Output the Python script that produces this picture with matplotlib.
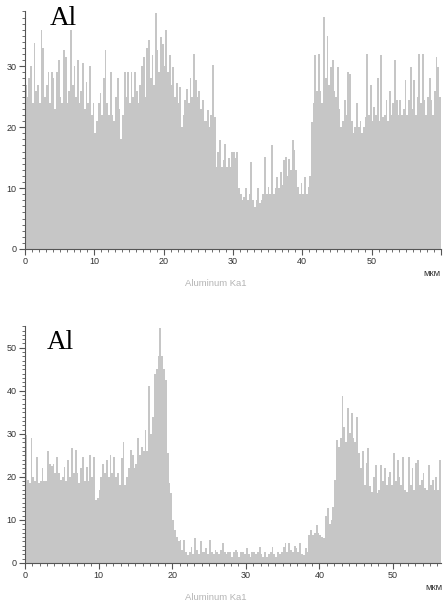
import numpy as np
import matplotlib
matplotlib.use('Agg')
import matplotlib.pyplot as plt
from matplotlib.ticker import MultipleLocator

# EDS line scan, Al K-alpha counts, one value per 0.25 um step
step = 0.25

al_top = [
    27, 25, 28, 30, 24, 33.8, 26, 27, 24, 36, 33, 25, 27, 29, 24, 29, 28, 23, 29, 31,
    25, 24, 32.7, 31.5, 24, 26, 36, 27, 30, 25, 31, 24, 26, 30.5, 23, 27.5, 24, 30, 22, 24,
    19, 21, 24, 25.6, 22, 28, 32.7, 24, 22, 29, 22, 21, 25, 28, 23, 18, 22, 29, 25, 29,
    24, 29, 25, 29, 26, 24, 27, 30, 31.6, 25, 33, 34.3, 28, 31.8, 27, 38.7, 32.6, 29, 34.8, 33.7,
    30, 35.9, 29, 31.8, 27, 29.9, 25, 27.2, 24, 26.6, 20, 22, 24.4, 26.3, 24, 28, 25, 32, 27.7, 25,
    26, 23, 24.4, 21, 21, 22.8, 20, 22, 30.2, 21.7, 13.5, 16, 17.9, 13.5, 14.6, 17.3, 13.5, 15, 13.5, 16,
    16, 15, 16, 10, 9.1, 8, 8.5, 10, 8, 9, 14.3, 8, 6.9, 8, 10, 7.5, 8, 9, 15.1, 9,
    10.2, 9, 17, 9, 10, 11.9, 10, 12.7, 10.5, 14.6, 15.1, 12, 14.8, 13, 17.9, 16.2, 13, 10.2, 9, 10.8,
    9, 11.9, 9, 10.2, 12, 20.9, 24, 31.8, 26, 32, 26, 24, 38.1, 28, 35, 27, 29.9, 31, 26, 25,
    29.9, 23, 20, 21, 24.4, 22, 29, 28.8, 21, 19, 20, 23.9, 20, 21, 19, 20, 21.7, 32, 22, 27,
    21, 23.3, 22, 28, 21, 31.8, 21.7, 22, 24.4, 21, 26, 22, 24, 31, 24.4, 22, 24.4, 22, 23, 27.7,
    22, 24.4, 29.9, 23, 27.7, 22, 25, 32, 24, 32, 24.4, 22, 25, 28, 24.4, 22, 26, 31.5, 29.9, 25,
]

al_bottom = [
    29.8, 19.3, 18.5, 29, 20, 19, 24.7, 18.5, 19, 22, 19, 19, 25.9, 23, 22.5, 23, 21, 24.7, 21, 19.3,
    20, 22.4, 19, 24, 20, 26.7, 21, 26.3, 20.9, 18.5, 22, 24.7, 19, 22.4, 19, 25.1, 20, 24.7, 14.7, 15,
    17, 20, 23, 21, 24, 20, 25, 21, 24.7, 20, 21, 18, 24.3, 28.2, 18, 20, 22, 26.3, 25, 22,
    23, 29, 25, 27, 26, 31, 26, 41, 30, 34, 44, 45, 48, 54.6, 48, 45, 42.6, 25.5, 18.5, 16.2,
    10, 7.7, 6.1, 5, 5.3, 3, 5.3, 2.5, 1.9, 2.5, 3.8, 2, 5.7, 3, 2, 5, 2.5, 2.5, 3.5, 2,
    5.3, 2.5, 2, 3, 2.5, 2, 3, 4.6, 2.5, 2, 2.6, 2.6, 1.5, 2.6, 3, 2.6, 1.5, 2.6, 2.6, 2,
    3.4, 2, 1.5, 2.5, 2.5, 2, 2.5, 3.6, 2, 1.5, 2.6, 1.5, 2, 2.5, 3.6, 2, 1.5, 2.6, 2, 2.5,
    3.6, 4.6, 2.5, 4.6, 3, 2.5, 4, 3.5, 2.5, 4.6, 2, 1.8, 3.5, 2.5, 6.5, 7.7, 6.5, 7, 8.8, 7,
    6.5, 6, 5.7, 10.8, 12.7, 9, 10, 13, 19.3, 28.6, 27, 29, 38.7, 31.7, 28, 36, 30.2, 34.8, 29, 28,
    34, 25.5, 22, 25.9, 18, 23.2, 26.7, 17.8, 16.5, 20, 22.8, 16.2, 17, 22.8, 19, 22, 18, 20, 21.2, 18,
    25.5, 19, 24, 20, 18, 24.7, 17, 16.6, 24.7, 18, 22, 17, 23.2, 24, 18, 19.3, 21, 17.4, 17, 22.8,
    18, 19.3, 17, 20, 17, 24,
]

x_max_top = 60
x_max_bottom = 56.5
y_max_top = 39
y_max_bottom = 55

bar_color = '#c6c6c6'
axis_color = '#555555'
label_color = '#333333'

fig = plt.figure(figsize=(4.47, 6.07), dpi=100)
ax_top = fig.add_axes([0.0559, 0.5898, 0.9306, 0.3913])
ax_bot = fig.add_axes([0.0559, 0.0725, 0.9306, 0.3901])


def draw_panel(ax, vals, xmax, ymax):
    edges = np.arange(len(vals) + 1) * step
    ax.stairs(vals, edges, fill=True, color=bar_color, linewidth=0)
    ax.set_xlim(0, xmax)
    ax.set_ylim(0, ymax)
    for s in ['top', 'right']:
        ax.spines[s].set_visible(False)
    for s in ['left', 'bottom']:
        ax.spines[s].set_color(axis_color)
        ax.spines[s].set_linewidth(0.8)
    ax.xaxis.set_major_locator(MultipleLocator(10))
    ax.xaxis.set_minor_locator(MultipleLocator(1))
    ax.yaxis.set_major_locator(MultipleLocator(10))
    ax.yaxis.set_minor_locator(MultipleLocator(1))
    ax.tick_params(which='major', length=4, width=0.8, color=axis_color,
                   labelsize=6.5, labelcolor=label_color, pad=2)
    ax.tick_params(which='minor', length=2.2, width=0.6, color=axis_color)
    for lab in ax.get_xticklabels() + ax.get_yticklabels():
        lab.set_fontfamily('Liberation Sans')


draw_panel(ax_top, al_top, x_max_top, y_max_top)
draw_panel(ax_bot, al_bottom, x_max_bottom, y_max_bottom)

# top panel: the 60 tick has no number, "мкм" sits below it instead
ax_top.set_xticks([0, 10, 20, 30, 40, 50, 60])
ax_top.set_xticklabels(['0', '10', '20', '30', '40', '50', ''], fontfamily='Liberation Sans')

ax_top.text(0.06, 0.943, 'Al', transform=ax_top.transAxes, fontsize=19.5,
            fontfamily='Liberation Serif', va='baseline', ha='left')
ax_bot.text(0.053, 0.904, 'Al', transform=ax_bot.transAxes, fontsize=19.5,
            fontfamily='Liberation Serif', va='baseline', ha='left')

for y_mkm, x_mkm, y_name in [(273, 432, 283), (587, 434, 598)]:
    fig.text(x_mkm / 447, 1 - y_mkm / 607, 'мкм', fontsize=6.8, color=label_color,
             ha='center', va='center', fontfamily='Liberation Sans')
    fig.text(216 / 447, 1 - y_name / 607, 'Aluminum Ka1', fontsize=6.8, color='#b4b4b4',
             ha='center', va='center', fontfamily='Liberation Sans')

fig.savefig('out.png', dpi=100, facecolor='white')
